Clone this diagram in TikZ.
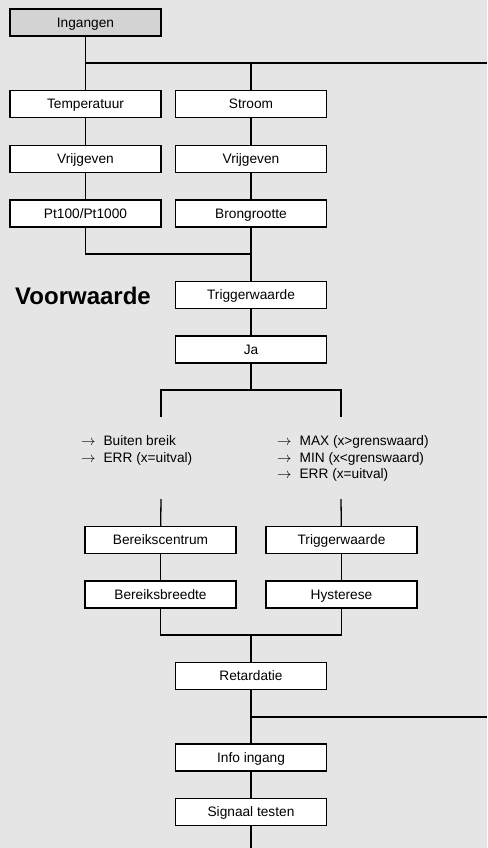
\documentclass[tikz,border=0pt]{standalone}
\usepackage{fontspec}
\setmainfont{Liberation Sans}
\definecolor{bggray}{HTML}{E5E5E5}
\definecolor{headgray}{HTML}{D3D3D3}
\tikzset{
    menubox/.style={draw, fill=white, line width=1.3pt, minimum width=151pt, minimum height=27pt, inner sep=0pt, text height=9.8pt, text depth=0pt, font=\fontsize{13.7}{16}\selectfont},
    tree/.style={line width=1.3pt},
    keuzes/.style={anchor=west, align=left, inner sep=0pt, font=\fontsize{13.7}{16.5}\selectfont}
}
\newcommand{\pijl}{$\rightarrow$\hspace{8pt}}
\begin{document}
\begin{tikzpicture}[x=1pt, y=-1pt]
    % achtergrond
    \fill[bggray] (0,0) rectangle (487,848);
    \useasboundingbox (0,0) rectangle (487,848);

    % ingangen
    \node[menubox, fill=headgray] (ing) at (85.5, 22.5) {Ingangen};
    \node[menubox] (temp) at (85.5, 104) {Temperatuur};
    \node[menubox] (stroom) at (251, 104) {Stroom};
    \node[menubox] (vrij1) at (85.5, 159) {Vrijgeven};
    \node[menubox] (vrij2) at (251, 159) {Vrijgeven};
    \node[menubox] (pt) at (85.5, 213.5) {Pt100/Pt1000};
    \node[menubox] (bron) at (251, 213.5) {Brongrootte};

    \coordinate (j1) at (85.5, 63);
    \coordinate (rand1) at (487, 63);
    \coordinate (j3) at (251, 254);

    \draw[tree] (ing) -- (temp);
    \draw[tree] (j1) -- (rand1);
    \draw[tree] (stroom.north) |- (j1);
    \draw[tree] (temp) -- (vrij1);
    \draw[tree] (vrij1) -- (pt);
    \draw[tree] (stroom) -- (vrij2);
    \draw[tree] (vrij2) -- (bron);
    \draw[tree] (pt) |- (j3);

    % voorwaarde
    \node[font=\fontsize{24}{28}\selectfont\bfseries] (vw) at (83, 296) {Voorwaarde};
    \node[menubox] (trig) at (251, 295) {Triggerwaarde};
    \node[menubox] (ja) at (251, 349.5) {Ja};

    \draw[tree] (bron) -- (trig);
    \draw[tree] (trig) -- (ja);

    % vertakking
    \coordinate (j4) at (251, 390);
    \coordinate (vl) at (161, 417);
    \coordinate (vr) at (341, 417);
    \draw[tree] (ja) -- (j4);
    \draw[tree] (vl) |- (j4) -| (vr);

    \node[keuzes] (links) at (81, 450.5) {\pijl Buiten breik\\ \pijl ERR (x=uitval)};
    \node[keuzes] (rechts) at (277, 458.5) {\pijl MAX (x>grenswaard)\\ \pijl MIN (x<grenswaard)\\ \pijl ERR (x=uitval)};

    \coordinate (wl) at (161, 499);
    \coordinate (wr) at (341, 499);

    \node[menubox] (bc) at (160.5, 540) {Bereikscentrum};
    \node[menubox] (trig2) at (341.5, 540) {Triggerwaarde};
    \node[menubox] (bb) at (160.5, 594.5) {Bereiksbreedte};
    \node[menubox] (hys) at (341.5, 594.5) {Hysterese};

    \draw[tree] (wl) -- (bc);
    \draw[tree] (wr) -- (trig2);
    \draw[tree] (bc) -- (bb);
    \draw[tree] (trig2) -- (hys);

    % samenvoegen
    \coordinate (j5) at (251, 635);
    \draw[tree] (bb) |- (j5) -| (hys);

    \node[menubox] (ret) at (251, 676) {Retardatie};
    \node[menubox] (info) at (251, 757.5) {Info ingang};
    \node[menubox] (sig) at (251, 812) {Signaal testen};

    \coordinate (j6) at (251, 717);
    \coordinate (rand2) at (487, 717);
    \coordinate (einde) at (251, 848);

    \draw[tree] (j5) -- (ret);
    \draw[tree] (ret) -- (info);
    \draw[tree] (j6) -- (rand2);
    \draw[tree] (info) -- (sig);
    \draw[tree] (sig) -- (einde);
\end{tikzpicture}
\end{document}
